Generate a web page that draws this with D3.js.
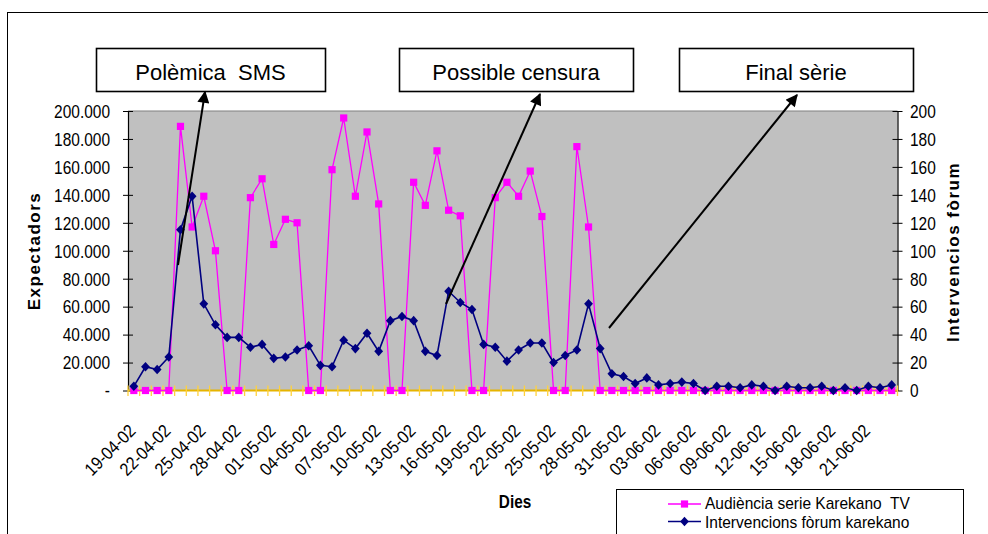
<!DOCTYPE html>
<html>
<head>
<meta charset="utf-8">
<script src="https://cdn.jsdelivr.net/npm/d3@7"></script>
<style>
  html, body { margin: 0; padding: 0; background: #fff; }
  svg { display: block; font-family: "Liberation Sans", Arial, sans-serif; }
</style>
</head>
<body>
<svg id="chart" width="988" height="534"></svg>
<script>
// Daily categories, 19 April – 23 June 2002
const dates = [
  "19-04-02","20-04-02","21-04-02","22-04-02","23-04-02","24-04-02","25-04-02","26-04-02",
  "27-04-02","28-04-02","29-04-02","30-04-02","01-05-02","02-05-02","03-05-02","04-05-02",
  "05-05-02","06-05-02","07-05-02","08-05-02","09-05-02","10-05-02","11-05-02","12-05-02",
  "13-05-02","14-05-02","15-05-02","16-05-02","17-05-02","18-05-02","19-05-02","20-05-02",
  "21-05-02","22-05-02","23-05-02","24-05-02","25-05-02","26-05-02","27-05-02","28-05-02",
  "29-05-02","30-05-02","31-05-02","01-06-02","02-06-02","03-06-02","04-06-02","05-06-02",
  "06-06-02","07-06-02","08-06-02","09-06-02","10-06-02","11-06-02","12-06-02","13-06-02",
  "14-06-02","15-06-02","16-06-02","17-06-02","18-06-02","19-06-02","20-06-02","21-06-02",
  "22-06-02","23-06-02"
];

// TV audience (left axis, viewers)
const audiencia = [
  0, 0, 0, 0, 189000, 117000, 139000, 100000,
  0, 0, 138000, 151500, 104500, 122500, 120000, 0,
  0, 158000, 195000, 139000, 185000, 133500, 0, 0,
  149000, 132500, 171500, 129000, 125000, 0, 0, 138000,
  149000, 139000, 157000, 124500, 0, 0, 174500, 117000,
  0, 0, 0, 0, 0, 0, 0, 0,
  0, 0, 0, 0, 0, 0, 0, 0,
  0, 0, 0, 0, 0, 0, 0, 0,
  0, 0
];

// Forum posts (right axis)
const intervencions = [
  3, 17, 15, 24, 115, 139, 62, 47,
  38, 38, 31, 33, 23, 24, 29, 32,
  18, 17, 36, 30, 41, 28, 50, 53,
  50, 28, 25, 71, 63, 58, 33, 31,
  21, 29, 34, 34, 20, 25, 29, 62,
  30, 12, 10, 5, 9, 4, 5, 6,
  5, 0, 3, 3, 2, 4, 3, 0,
  3, 2, 2, 3, 0, 2, 0, 3,
  2, 4
];

const leftTicks  = [0, 20000, 40000, 60000, 80000, 100000, 120000, 140000, 160000, 180000, 200000];
const rightTicks = [0, 20, 40, 60, 80, 100, 120, 140, 160, 180, 200];
const seriesNames = ["Audiència serie Karekano  TV", "Intervencions fòrum karekano"];
const axisTitles = { left: "Expectadors", right: "Intervencios fòrum", bottom: "Dies" };
const notes = ["Polèmica  SMS", "Possible censura", "Final sèrie"];

// ---- layout ----
const plot = { left: 128, right: 897.5, top: 111, bottom: 390.5 };
const PINK = "#FF00FF", NAVY = "#000080";

const svg = d3.select("#chart");

// outer frame of the chart object
svg.append("rect")
  .attr("x", 7.5).attr("y", 12.5).attr("width", 1200).attr("height", 1000)
  .attr("fill", "#fff").attr("stroke", "#000").attr("stroke-width", 1);

const x = d3.scaleBand().domain(dates).range([plot.left, plot.right]).padding(0);
const cx = d => x(d) + x.bandwidth() / 2;
const yL = d3.scaleLinear().domain([0, 200000]).range([plot.bottom, plot.top]);
const yR = d3.scaleLinear().domain([0, 200]).range([plot.bottom, plot.top]);

// plot area
svg.append("rect")
  .attr("x", plot.left).attr("y", plot.top)
  .attr("width", plot.right - plot.left).attr("height", plot.bottom - plot.top)
  .attr("fill", "#C0C0C0");
svg.append("line")
  .attr("x1", plot.left).attr("x2", plot.right)
  .attr("y1", plot.top).attr("y2", plot.top)
  .attr("stroke", "#808080").attr("stroke-width", 1.2);

// number format with dot as thousands separator, zero shown as a dash
const loc = d3.formatLocale({ decimal: ",", thousands: ".", grouping: [3], currency: ["", ""] });
const fmtThousands = loc.format(",");
const fmtLeft = v => v === 0 ? "-" : fmtThousands(v);

// left axis
const gL = svg.append("g")
  .attr("transform", `translate(${plot.left},0)`)
  .call(d3.axisLeft(yL).tickValues(leftTicks).tickFormat(fmtLeft).tickSizeInner(5).tickSizeOuter(0));
gL.select(".domain").attr("stroke", "#000").attr("stroke-width", 1.2);
gL.selectAll(".tick line").attr("x1", 5).attr("x2", -5).attr("stroke", "#000");
gL.selectAll(".tick text")
  .attr("x", 0).attr("dy", "0.35em")
  .attr("transform", "translate(-18,0) scale(0.86,1)")
  .attr("font-size", 18).attr("font-family", "Liberation Sans, Arial, sans-serif")
  .attr("fill", "#000");

// right axis
const gR = svg.append("g")
  .attr("transform", `translate(${plot.right},0)`)
  .call(d3.axisRight(yR).tickValues(rightTicks).tickFormat(d3.format("d")).tickSizeInner(5).tickSizeOuter(0));
gR.select(".domain").attr("stroke", "#000").attr("stroke-width", 1.2);
gR.selectAll(".tick line").attr("x1", -5).attr("x2", 5).attr("stroke", "#000");
gR.selectAll(".tick text")
  .attr("x", 0).attr("dy", "0.35em")
  .attr("transform", "translate(12.5,0) scale(0.86,1)")
  .attr("font-size", 18).attr("font-family", "Liberation Sans, Arial, sans-serif")
  .attr("fill", "#000");

// category axis: gold baseline with ticks on every day boundary
svg.append("line")
  .attr("x1", plot.left).attr("x2", plot.right)
  .attr("y1", plot.bottom).attr("y2", plot.bottom)
  .attr("stroke", "#E6B400").attr("stroke-width", 2);
const bounds = dates.map(d => x(d)).concat([x(dates[dates.length - 1]) + x.bandwidth()]);
svg.append("g").selectAll("line").data(bounds).join("line")
  .attr("x1", d => d).attr("x2", d => d)
  .attr("y1", plot.bottom - 5).attr("y2", plot.bottom + 5.5)
  .attr("stroke", "#FFD23C").attr("stroke-width", 1.3);

// date labels every third day
const gX = svg.append("g")
  .attr("transform", `translate(0,${plot.bottom})`)
  .call(d3.axisBottom(x).tickValues(dates.filter((d, i) => i % 3 === 0)).tickSize(0));
gX.select(".domain").remove();
gX.selectAll(".tick text")
  .attr("x", 0).attr("y", 0).attr("dy", 0)
  .attr("text-anchor", "end")
  .attr("transform", "translate(3,41.5) rotate(-45) scale(0.88,1)")
  .attr("font-size", 18).attr("font-family", "Liberation Sans, Arial, sans-serif")
  .attr("fill", "#000");

// axis titles
svg.append("text")
  .attr("transform", "translate(40,251) rotate(-90)")
  .attr("text-anchor", "middle").attr("font-weight", "bold")
  .attr("font-size", 17).attr("letter-spacing", "1.5px")
  .text(axisTitles.left);
svg.append("text")
  .attr("transform", "translate(959,252) rotate(-90)")
  .attr("text-anchor", "middle").attr("font-weight", "bold")
  .attr("font-size", 17).attr("letter-spacing", "1.5px")
  .text(axisTitles.right);
svg.append("text")
  .attr("transform", "translate(515,508) scale(0.85,1)")
  .attr("text-anchor", "middle").attr("font-weight", "bold")
  .attr("font-size", 18)
  .text(axisTitles.bottom);

// series
const diamond = "M0,-4.8L4.4,0L0,4.8L-4.4,0Z";

const lineL = d3.line().x((d, i) => cx(dates[i])).y(d => yL(d));
svg.append("path").datum(audiencia)
  .attr("d", lineL).attr("fill", "none")
  .attr("stroke", PINK).attr("stroke-width", 1.3);
svg.append("g").selectAll("rect").data(audiencia).join("rect")
  .attr("x", (d, i) => cx(dates[i]) - 3.6).attr("y", d => yL(d) - 3.6)
  .attr("width", 7.2).attr("height", 7.2).attr("fill", PINK);

const lineR = d3.line().x((d, i) => cx(dates[i])).y(d => yR(d));
svg.append("path").datum(intervencions)
  .attr("d", lineR).attr("fill", "none")
  .attr("stroke", NAVY).attr("stroke-width", 1.6);
svg.append("g").selectAll("path").data(intervencions).join("path")
  .attr("d", diamond)
  .attr("transform", (d, i) => `translate(${cx(dates[i])},${yR(d)})`)
  .attr("fill", NAVY);

// annotation boxes and arrows
const defs = svg.append("defs");
defs.append("marker")
  .attr("id", "head").attr("viewBox", "0 0 10 10")
  .attr("refX", 9).attr("refY", 5)
  .attr("markerUnits", "userSpaceOnUse")
  .attr("markerWidth", 15).attr("markerHeight", 12)
  .attr("orient", "auto")
  .append("path").attr("d", "M0,0L10,5L0,10Z").attr("fill", "#000");

const boxes = [
  { x0: 96,  x1: 325, arrow: [178, 265, 205, 92] },
  { x0: 399, x1: 633, arrow: [446, 304, 540, 94] },
  { x0: 679, x1: 913, arrow: [609, 328, 797, 95] }
];
const boxTop = 48, boxBottom = 91;

boxes.forEach((b, i) => {
  svg.append("rect")
    .attr("x", b.x0 + 0.5).attr("y", boxTop + 0.5)
    .attr("width", b.x1 - b.x0).attr("height", boxBottom - boxTop)
    .attr("fill", "#fff").attr("stroke", "#000").attr("stroke-width", 1.6);
  svg.append("text")
    .attr("x", (b.x0 + b.x1) / 2).attr("y", 80)
    .attr("text-anchor", "middle").attr("font-size", 22)
    .style("white-space", "pre")
    .text(notes[i]);
  svg.append("line")
    .attr("x1", b.arrow[0]).attr("y1", b.arrow[1])
    .attr("x2", b.arrow[2]).attr("y2", b.arrow[3])
    .attr("stroke", "#000").attr("stroke-width", 2)
    .attr("marker-end", "url(#head)");
});

// legend
const lg = svg.append("g");
lg.append("rect")
  .attr("x", 616.5).attr("y", 489.5).attr("width", 347).attr("height", 80)
  .attr("fill", "#fff").attr("stroke", "#000").attr("stroke-width", 1);
const legendRows = [
  { name: seriesNames[0], color: PINK, y: 504, mark: "square", base: 509 },
  { name: seriesNames[1], color: NAVY, y: 521.5, mark: "diamond", base: 528 }
];
legendRows.forEach(r => {
  lg.append("line")
    .attr("x1", 668).attr("x2", 701).attr("y1", r.y).attr("y2", r.y)
    .attr("stroke", r.color).attr("stroke-width", 1.5);
  if (r.mark === "square") {
    lg.append("rect").attr("x", 684.5 - 3.6).attr("y", r.y - 3.6)
      .attr("width", 7.2).attr("height", 7.2).attr("fill", r.color);
  } else {
    lg.append("path").attr("d", diamond)
      .attr("transform", `translate(684.5,${r.y})`).attr("fill", r.color);
  }
  lg.append("text")
    .attr("transform", `translate(705,${r.base}) scale(0.97,1)`)
    .attr("font-size", 16).style("white-space", "pre")
    .text(r.name);
});
</script>
</body>
</html>
